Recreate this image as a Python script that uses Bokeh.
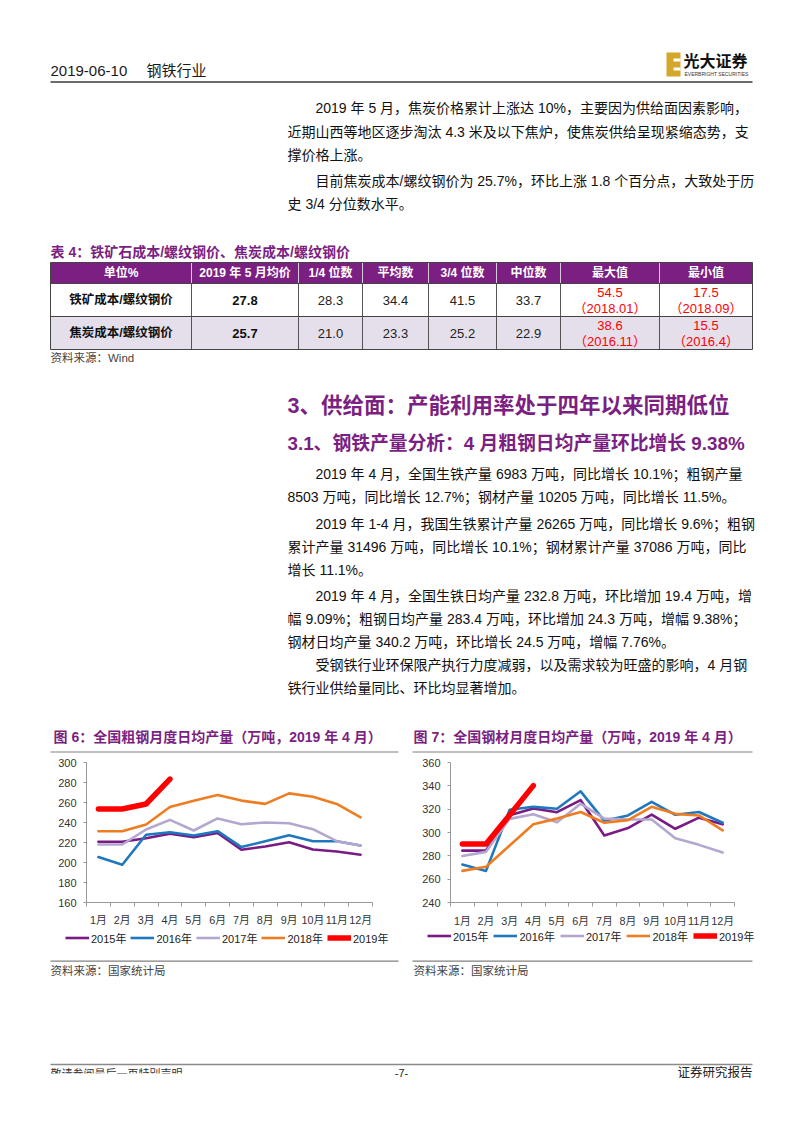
import numpy as np
from bokeh.plotting import figure
from bokeh.layouts import column, row
from bokeh.models import Range1d, FixedTicker, Legend, LegendItem
from bokeh.core.properties import value
from bokeh.embed import file_html
from bokeh.resources import INLINE

# ---------------- data ----------------
months = ["1月", "2月", "3月", "4月", "5月", "6月", "7月", "8月", "9月", "10月", "11月", "12月"]
years = ["2015年", "2016年", "2017年", "2018年", "2019年"]

# 图6 全国粗钢月度日均产量（万吨）
crude_2015 = [220.7, 220.7, 224.3, 228.7, 225.3, 229.5, 212.8, 216.0, 220.3, 213.0, 211.0, 207.8]
crude_2016 = [205.4, 197.8, 227.7, 230.3, 227.0, 231.3, 215.4, 221.3, 227.3, 221.3, 221.3, 217.0]
crude_2017 = [218.0, 218.0, 233.0, 242.6, 232.0, 244.1, 238.3, 240.0, 239.3, 233.3, 221.3, 217.0]
crude_2018 = [231.3, 231.3, 238.0, 255.5, 261.8, 267.4, 261.9, 258.6, 269.1, 265.8, 258.6, 245.2]
crude_2019 = [253.5, 253.5, 258.5, 283.4]

# 图7 全国钢材月度日均产量（万吨）
rolled_2015 = [284.5, 284.5, 314.7, 320.6, 317.4, 327.7, 297.5, 303.8, 315.4, 303.2, 312.7, 307.0]
rolled_2016 = [272.6, 267.1, 319.5, 322.0, 320.4, 335.3, 310.0, 314.6, 326.3, 315.2, 317.6, 308.4]
rolled_2017 = [279.9, 283.4, 311.7, 315.7, 308.7, 324.7, 311.9, 311.1, 311.1, 295.1, 289.4, 282.9]
rolled_2018 = [267.1, 270.7, 288.9, 307.0, 311.9, 317.6, 308.4, 310.6, 322.0, 316.0, 314.6, 301.9]
rolled_2019 = [290.2, 290.2, 315.0, 340.2]

crude_ticks = [160, 180, 200, 220, 240, 260, 280, 300]
rolled_ticks = [240, 260, 280, 300, 320, 340, 360]

# 表4
table_title = "表 4：铁矿石成本/螺纹钢价、焦炭成本/螺纹钢价"
table_header = ["单位%", "2019 年 5 月均价", "1/4 位数", "平均数", "3/4 位数", "中位数", "最大值", "最小值"]
row_labels = ["铁矿成本/螺纹钢价", "焦炭成本/螺纹钢价"]
may_avg = [27.8, 25.7]
q1_vals = [28.3, 21.0]
mean_vals = [34.4, 23.3]
q3_vals = [41.5, 25.2]
median_vals = [33.7, 22.9]
max_vals = [54.5, 38.6]
max_dates = ["2018.01", "2016.11"]
min_vals = [17.5, 15.5]
min_dates = ["2018.09", "2016.4"]

# ---------------- style ----------------
SANS = "Liberation Sans, Noto Sans CJK SC"
PURPLE = "#7B1F82"
AXIS_GRAY = "#999999"
W = 786
TOP_H = 755
CHART_TOP = 755
CHART_BOTTOM = 930
PAGE_H = 1117
series_colors = ["#7A1A84", "#1F78BE", "#B4A7CF", "#EE7D22", "#FF0000"]
series_widths = [2.6, 2.6, 2.6, 2.6, 5.5]


def page_fig(y0, y1):
    p = figure(width=W, height=y1 - y0, x_range=Range1d(0, W), y_range=Range1d(y1, y0),
               output_backend="svg", toolbar_location=None,
               x_axis_location=None, y_axis_location=None)
    p.min_border_left = p.min_border_right = p.min_border_top = p.min_border_bottom = 0
    p.grid.visible = False
    p.outline_line_color = None
    return p


def txt(p, xs, ys, texts, size, color="#000000", style="normal", align="left", baseline="middle"):
    p.text(x=list(xs), y=list(ys), text=list(texts), text_font=value(SANS), text_font_size=size,
           text_color=color, text_font_style=style, text_align=align, text_baseline=baseline)


def hline(p, x0, x1, y, color, width):
    p.segment(x0=[x0], y0=[y], x1=[x1], y1=[y], line_color=color, line_width=width)


# ---------------- top page part ----------------
top = page_fig(0, TOP_H)

# header
txt(top, [50], [70], ["2019-06-10"], "15px", "#1a1a1a")
txt(top, [146], [70], ["钢铁行业"], "15px", "#1a1a1a")
hline(top, 50, 752, 81.5, "#3a3a3a", 1.6)
# logo
top.quad(left=[666], right=[680], top=[52], bottom=[76], fill_color="#D4A62A", line_color=None)
top.quad(left=[673, 673], right=[680, 680], top=[58, 67], bottom=[61, 70], fill_color="white", line_color=None)
txt(top, [683], [61], ["光大证券"], "16px", "#111111", "bold")
txt(top, [684], [73], ["EVERBRIGHT SECURITIES"], "5px", "#333333")

# body text
body_x = [315, 287, 287, 315, 287,
          315, 287, 315, 287, 287, 315, 287, 287, 315, 287]
body_y = [107, 131, 154, 180, 203,
          473, 496, 523, 546, 569, 595, 618, 641, 664, 687]
body_text = [
    "2019 年 5 月，焦炭价格累计上涨达 10%，主要因为供给面因素影响，",
    "近期山西等地区逐步淘汰 4.3 米及以下焦炉，使焦炭供给呈现紧缩态势，支",
    "撑价格上涨。",
    "目前焦炭成本/螺纹钢价为 25.7%，环比上涨 1.8 个百分点，大致处于历",
    "史 3/4 分位数水平。",
    "2019 年 4 月，全国生铁产量 6983 万吨，同比增长 10.1%；粗钢产量",
    "8503 万吨，同比增长 12.7%；钢材产量 10205 万吨，同比增长 11.5%。",
    "2019 年 1-4 月，我国生铁累计产量 26265 万吨，同比增长 9.6%；粗钢",
    "累计产量 31496 万吨，同比增长 10.1%；钢材累计产量 37086 万吨，同比",
    "增长 11.1%。",
    "2019 年 4 月，全国生铁日均产量 232.8 万吨，环比增加 19.4 万吨，增",
    "幅 9.09%；粗钢日均产量 283.4 万吨，环比增加 24.3 万吨，增幅 9.38%；",
    "钢材日均产量 340.2 万吨，环比增长 24.5 万吨，增幅 7.76%。",
    "受钢铁行业环保限产执行力度减弱，以及需求较为旺盛的影响，4 月钢",
    "铁行业供给量同比、环比均显著增加。",
]
txt(top, body_x, body_y, body_text, "14px", "#111111")

# headings
txt(top, [287], [405], ["3、供给面：产能利用率处于四年以来同期低位"], "21.5px", PURPLE, "bold")
txt(top, [287], [443], ["3.1、钢铁产量分析：4 月粗钢日均产量环比增长 9.38%"], "18.8px", PURPLE, "bold")

# table
txt(top, [50], [251], [table_title], "14px", PURPLE, "bold")
col_edges = [50, 191, 298, 362, 428, 496, 560, 659, 752]
row_edges = [262, 283, 316, 349]
top.quad(left=[col_edges[0]], right=[col_edges[-1]], top=[row_edges[0]], bottom=[row_edges[1]],
         fill_color=PURPLE, line_color=None)
top.quad(left=[col_edges[0]], right=[col_edges[-1]], top=[row_edges[2]], bottom=[row_edges[3]],
         fill_color="#E5DFEC", line_color=None)
centers = [(col_edges[i] + col_edges[i + 1]) / 2 for i in range(len(col_edges) - 1)]
top.segment(x0=col_edges[1:-1], y0=[row_edges[0]] * 7, x1=col_edges[1:-1], y1=[row_edges[1]] * 7,
            line_color="#D8C8DC", line_width=1)
top.segment(x0=col_edges[1:-1], y0=[row_edges[1]] * 7, x1=col_edges[1:-1], y1=[row_edges[3]] * 7,
            line_color="#555555", line_width=1)
top.segment(x0=[col_edges[0]] * 4, y0=row_edges, x1=[col_edges[-1]] * 4, y1=row_edges,
            line_color="#444444", line_width=1)
top.segment(x0=[col_edges[0], col_edges[-1]], y0=[row_edges[0]] * 2, x1=[col_edges[0], col_edges[-1]],
            y1=[row_edges[3]] * 2, line_color="#444444", line_width=1)

hy = (row_edges[0] + row_edges[1]) / 2
txt(top, centers, [hy] * 8, table_header, "12px", "white", "bold", "center")
row_y = [(row_edges[1] + row_edges[2]) / 2, (row_edges[2] + row_edges[3]) / 2]
txt(top, [centers[0]] * 2, row_y, row_labels, "12.5px", "#111111", "bold", "center")
txt(top, [centers[1]] * 2, row_y, ["%.1f" % v for v in may_avg], "13px", "#111111", "bold", "center")
for ci, vals in zip([2, 3, 4, 5], [q1_vals, mean_vals, q3_vals, median_vals]):
    txt(top, [centers[ci]] * 2, row_y, ["%.1f" % v for v in vals], "13px", "#222222", "normal", "center")
for ci, vals, dates in [(6, max_vals, max_dates), (7, min_vals, min_dates)]:
    txt(top, [centers[ci]] * 2, [y - 7.5 for y in row_y], ["%.1f" % v for v in vals], "13px", "#FF0000",
        "normal", "center")
    txt(top, [centers[ci]] * 2, [y + 8 for y in row_y], ["（%s）" % d for d in dates], "13px", "#FF0000",
        "normal", "center")
txt(top, [50], [357], ["资料来源：Wind"], "11.5px", "#444444")

# chart titles
txt(top, [53], [736], ["图 6：全国粗钢月度日均产量（万吨，2019 年 4 月）"], "14px", PURPLE, "bold")
txt(top, [413], [736], ["图 7：全国钢材月度日均产量（万吨，2019 年 4 月）"], "14px", PURPLE, "bold")
hline(top, 50, 398, 751.5, "#808080", 1.2)
hline(top, 412, 752, 751.5, "#808080", 1.2)


# ---------------- charts ----------------
def make_chart(series, ticks, width, left, frame_w, frame_top, frame_h, standoff):
    right = width - left - frame_w
    top_b = frame_top - CHART_TOP
    bottom = (CHART_BOTTOM - CHART_TOP) - top_b - frame_h
    p = figure(width=width, height=CHART_BOTTOM - CHART_TOP,
               x_range=Range1d(0, 12), y_range=Range1d(ticks[0], ticks[-1]),
               output_backend="svg", toolbar_location=None)
    p.min_border_left = left
    p.min_border_right = right
    p.min_border_top = top_b
    p.min_border_bottom = bottom
    p.grid.visible = False
    p.outline_line_color = None
    p.background_fill_color = "white"
    p.border_fill_color = "white"

    xax = p.xaxis[0]
    xax.ticker = FixedTicker(ticks=[i + 0.5 for i in range(len(months))],
                             minor_ticks=list(range(len(months) + 1)))
    xax.major_label_overrides = {i + 0.5: m for i, m in enumerate(months)}
    xax.major_tick_line_color = None
    xax.major_tick_out = 0
    xax.major_tick_in = 0
    xax.minor_tick_in = 0
    xax.minor_tick_out = 4
    xax.minor_tick_line_color = AXIS_GRAY
    xax.axis_line_color = AXIS_GRAY
    xax.major_label_standoff = standoff
    xax.major_label_text_font = SANS
    xax.major_label_text_font_size = "10.8px"
    xax.major_label_text_color = "#333333"

    yax = p.yaxis[0]
    yax.ticker = FixedTicker(ticks=ticks)
    yax.major_tick_in = 0
    yax.major_tick_out = 3
    yax.major_tick_line_color = AXIS_GRAY
    yax.minor_tick_line_color = None
    yax.axis_line_color = AXIS_GRAY
    yax.major_label_standoff = 7
    yax.major_label_text_font = SANS
    yax.major_label_text_font_size = "11px"
    yax.major_label_text_color = "#333333"

    for vals, c, lw in zip(series, series_colors, series_widths):
        xs = [i + 0.5 for i in range(len(vals))]
        p.line(xs, vals, line_color=c, line_width=lw, line_join="round", line_cap="round")
    return p


chart6 = make_chart([crude_2015, crude_2016, crude_2017, crude_2018, crude_2019], crude_ticks,
                    width=397, left=86, frame_w=286, frame_top=762, frame_h=140, standoff=7)
chart7 = make_chart([rolled_2015, rolled_2016, rolled_2017, rolled_2018, rolled_2019], rolled_ticks,
                    width=389, left=53, frame_w=284, frame_top=762, frame_h=146, standoff=8)

# ---------------- bottom page part (legends, sources, footer) ----------------
bot = page_fig(CHART_BOTTOM, PAGE_H)


def add_legend(p, x_px, center_y_page, spacing):
    items = []
    for name, c, lw in zip(years, series_colors, series_widths):
        # legend swatch renderer, placed outside the visible range
        r = p.line(x=[-60, -50], y=[PAGE_H + 50, PAGE_H + 50], line_color=c, line_width=lw)
        items.append(LegendItem(label=name, renderers=[r]))
    h = 13
    leg = Legend(items=items, location=(x_px, PAGE_H - (center_y_page + h / 2)), orientation="horizontal",
                 glyph_width=24, glyph_height=h, label_height=h, label_standoff=2, spacing=spacing,
                 padding=0, margin=0, border_line_color=None, background_fill_alpha=0,
                 label_text_font=SANS, label_text_font_size="11px", label_text_color="#222222")
    p.add_layout(leg)


add_legend(bot, 65, 939, 4)
add_legend(bot, 427, 937, 5)

hline(bot, 50, 398, 960.7, "#808080", 1.2)
hline(bot, 412, 752, 960.7, "#808080", 1.2)
txt(bot, [50, 413], [970, 970], ["资料来源：国家统计局", "资料来源：国家统计局"], "11.5px", "#444444")
hline(bot, 50, 752, 1064, "#8a8a8a", 1.5)
txt(bot, [50], [1073], ["敬请参阅最后一页特别声明"], "11px", "#333333")
bot.quad(left=[48], right=[200], top=[1073], bottom=[1082], fill_color="white", line_color=None)
txt(bot, [401], [1072], ["-7-"], "11px", "#222222", "normal", "center")
txt(bot, [752], [1072], ["证券研究报告"], "12.5px", "#222222", "normal", "right")

layout = column(top, row(chart6, chart7), bot)
open("out.html", "w").write(file_html(layout, INLINE))
